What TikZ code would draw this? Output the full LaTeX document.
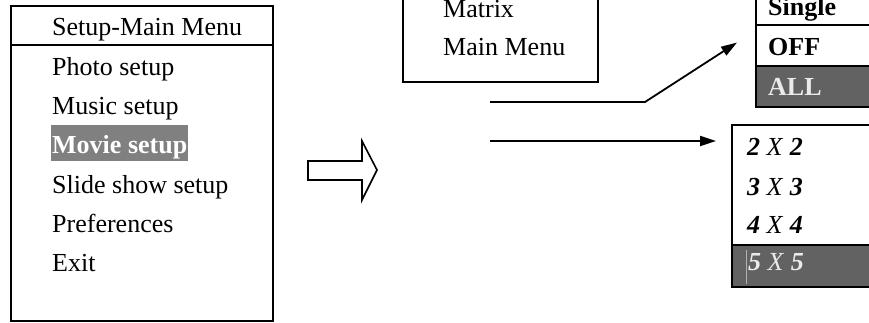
\documentclass[tikz,border=0pt]{standalone}
\usepackage{fontspec}
\setmainfont{Liberation Serif}
\usetikzlibrary{arrows.meta,positioning,calc}
\definecolor{hlgray}{HTML}{808080}
\definecolor{selgray}{HTML}{626262}
\definecolor{seltext}{HTML}{EAEAEA}

\begin{document}
\begin{tikzpicture}[x=1pt, y=-1pt, >=Triangle,
  item/.style={anchor=base west, inner sep=0pt, font=\fontsize{26}{31}\selectfont},
  frame/.style={draw, line width=2pt},
  link/.style={line width=1.8pt, -{Triangle[length=16pt, width=10pt]}}]
  \useasboundingbox (0,0) rectangle (869,322);
  \clip (0,0) rectangle (869,322);
  % Setup main menu
  \draw[frame] (11,6) rectangle (273,320.5);
  \draw[line width=2pt] (11,45) -- (273,45);
  \fill[hlgray] (51,125) rectangle (188,161);
  \node[item] (title) at (52,35) {Setup-Main Menu};
  \node[item] (photo) at (52,75) {Photo setup};
  \node[item] (music) at (52,114) {Music setup};
  \node[item, text=white] (movie) at (52,153) {\textbf{Movie setup}};
  \node[item] (slide) at (52,193) {Slide show setup};
  \node[item] (prefs) at (52,232) {Preferences};
  \node[item] (exit) at (52,271) {Exit};
  % Hollow arrow
  \draw[line width=1.6pt] (308,161) -- (362,161) -- (362,141) -- (377,170)
       -- (362,200) -- (362,180) -- (308,180) -- cycle;
  % Movie menu
  \draw[frame] (403,-10) rectangle (598,82);
  \node[item] (matrix) at (443,17) {Matrix};
  \node[item] (mainmenu) at (443,55) {Main Menu};
  % Slide options
  \fill[selgray] (756,66) rectangle (880,107);
  \draw[frame] (756,-10) rectangle (880,107);
  \draw[line width=2pt] (756,25) -- (880,25);
  \draw[line width=2pt] (756,66) -- (880,66);
  \node[item] (single) at (768,15) {\textbf{Single}};
  \node[item] (off) at (768,55) {\textbf{OFF}};
  \node[item, text=seltext] (all) at (768,95) {\textbf{ALL}};
  % Matrix options
  \fill[selgray] (732,245) rectangle (880,287);
  \draw[frame] (732,125) rectangle (880,287);
  \draw[line width=2pt] (732,245) -- (880,245);
  \draw[gray!60, line width=0.6pt] (746.5,250) -- (746.5,284);
  \node[item] (two) at (747,155) {\textbf{\textit{2}} \textit{X} \textbf{\textit{2}}};
  \node[item] (three) at (747,195) {\textbf{\textit{3}} \textit{X} \textbf{\textit{3}}};
  \node[item] (four) at (747,233) {\textbf{\textit{4}} \textit{X} \textbf{\textit{4}}};
  \node[item, text=seltext] (five) at (748,270) {\textbf{\textit{5}} \textit{X} \textbf{\textit{5}}};
  % Connectors
  \coordinate (src1) at (490,102);
  \coordinate (bend) at (645,102);
  \coordinate (src2) at (490,141);
  \draw[link] (src1) -- (bend) -- ([xshift=-31pt, yshift=4pt]off.west);
  \draw[link, shorten >=31pt] (src2) -- (src2 -| two.west);
\end{tikzpicture}
\end{document}
